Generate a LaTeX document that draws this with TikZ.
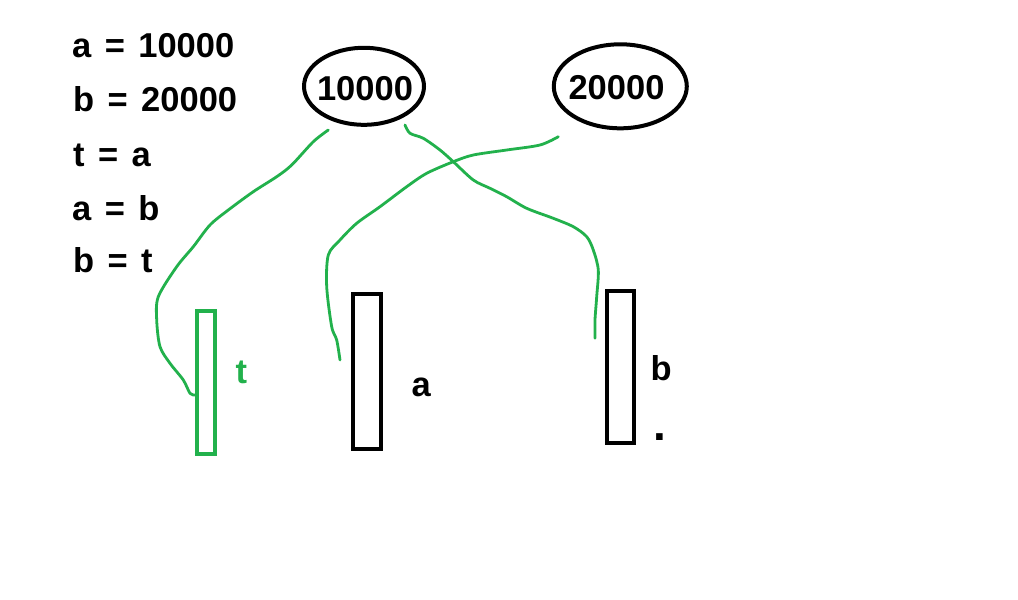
\documentclass[tikz,border=0pt]{standalone}
\usepackage{fontspec}
\setmainfont{Liberation Sans}[WordSpace=1.4]
\usetikzlibrary{shapes.geometric}
\definecolor{pgreen}{RGB}{34,177,76}
\begin{document}
\begin{tikzpicture}[x=1pt,y=-1pt,
  txt/.style={font=\fontsize{34.5}{40}\selectfont\bfseries, inner sep=0pt, anchor=base west},
  num/.style={font=\fontsize{34.5}{40}\selectfont\bfseries, inner sep=0pt},
  bubble/.style={draw, ellipse, line width=4pt, inner sep=0pt},
  box/.style={draw, line width=4pt, inner sep=0pt},
  link/.style={pgreen, line width=2.8pt, line cap=round, line join=round}]
\useasboundingbox[fill=white] (0,0) rectangle (1018,600);

% code lines
\node[txt] (l1) at (72,57) {a = 10000};
\node[txt] (l2) at (73,111) {b = 20000};
\node[txt] (l3) at (73,166.5) {t = a};
\node[txt] (l4) at (72,220) {a = b};
\node[txt] (l5) at (73,272) {b = t};

% values
\node[bubble, minimum width=120pt, minimum height=77pt] (e1) at (364,86.3) {};
\node[num] (n1) at (365,88.3) {10000};
\node[bubble, minimum width=133pt, minimum height=84pt] (e2) at (620.3,86.3) {};
\node[num] (n2) at (616.5,88) {20000};

% variables
\node[box, draw=pgreen, minimum width=17.7pt, minimum height=142.7pt] (vt) at (205.9,382.4) {};
\node[box, minimum width=27.7pt, minimum height=154.7pt] (va) at (366.9,371.7) {};
\node[box, minimum width=26.7pt, minimum height=151.7pt] (vb) at (620.4,367.2) {};

\node[txt, text=pgreen] (lt) at (235.5,383) {t};
\node[txt] (la) at (411.5,396) {a};
\node[txt] (lb) at (650.5,380) {b};
\node[txt, font=\fontsize{46}{50}\selectfont\bfseries] (ld) at (652.8,440) {.};

% connector ends
\coordinate (s1) at (328.3,130);
\coordinate (t1) at (195,395);
\coordinate (s2) at (405,125);
\coordinate (t2) at (595,338.3);
\coordinate (s3) at (558.3,136.7);
\coordinate (t3) at (340,360);

\draw[link] plot[smooth, tension=0.5] coordinates {(s1) (313.3,141.7) (291.7,165) (276.7,176.7) (253.3,191.7) (228.3,210) (210,225) (193.3,246.7) (176.7,266.7) (158.3,296.7) (156.7,320) (160,346.7) (170,363.3) (183.3,380) (190,393.3) (t1)};
\draw[link] plot[smooth, tension=0.5] coordinates {(s2) (410,133.3) (423.3,138.3) (440,150) (453.3,161.7) (473.3,180) (490,188.3) (506.7,196.7) (526.7,208.3) (553.3,218.3) (573.3,226.7) (586.7,236.7) (593.3,250) (598.3,270) (596.7,296.7) (595,320) (t2)};
\draw[link] plot[smooth, tension=0.5] coordinates {(s3) (540,145) (506.7,150) (473.3,155) (453.3,161.7) (426.7,173.3) (406.7,186.7) (380,206.7) (356.7,223.3) (340,240) (328.3,255) (326.7,286.7) (331.7,326.7) (336.7,340) (t3)};
\end{tikzpicture}
\end{document}
